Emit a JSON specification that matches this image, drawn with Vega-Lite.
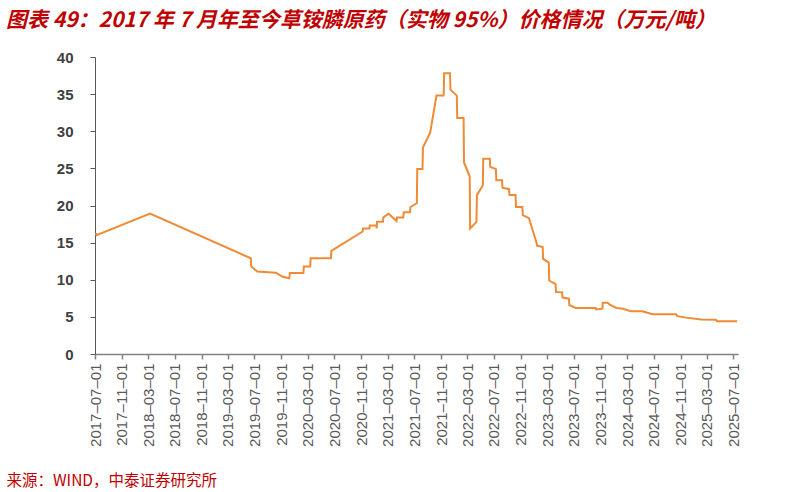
{
  "$schema": "https://vega.github.io/schema/vega-lite/v6.json",
  "autosize": "none",
  "padding": {"left": 95, "top": 57, "right": 65, "bottom": 138},
  "width": 643,
  "height": 297,
  "background": "white",
  "title": {
    "text": "图表 49：2017 年 7 月年至今草铵膦原药（实物 95%）价格情况（万元/吨）",
    "anchor": "start",
    "frame": "group",
    "dx": -89,
    "offset": 19,
    "font": "Noto Sans CJK SC",
    "fontSize": 21,
    "fontWeight": "bold",
    "fontStyle": "italic",
    "color": "#C00000"
  },
  "config": {
    "view": {"stroke": null},
    "axis": {"grid": false}
  },
  "data": {
    "values": [
      {"date": "2017-07-05", "price": 16.3},
      {"date": "2017-07-08", "price": 16.0},
      {"date": "2018-03-10", "price": 18.9},
      {"date": "2019-06-14", "price": 12.9},
      {"date": "2019-06-16", "price": 11.8},
      {"date": "2019-07-14", "price": 11.1},
      {"date": "2019-10-07", "price": 10.95},
      {"date": "2019-11-07", "price": 10.4},
      {"date": "2019-12-07", "price": 10.2},
      {"date": "2019-12-10", "price": 10.9},
      {"date": "2020-02-10", "price": 10.9},
      {"date": "2020-02-12", "price": 11.8},
      {"date": "2020-03-12", "price": 11.8},
      {"date": "2020-03-14", "price": 12.9},
      {"date": "2020-06-15", "price": 12.9},
      {"date": "2020-06-17", "price": 13.9},
      {"date": "2020-11-07", "price": 16.5},
      {"date": "2020-11-09", "price": 16.9},
      {"date": "2020-12-08", "price": 16.9},
      {"date": "2020-12-10", "price": 17.3},
      {"date": "2021-01-09", "price": 17.3},
      {"date": "2021-01-10", "price": 16.9},
      {"date": "2021-01-12", "price": 17.8},
      {"date": "2021-02-08", "price": 17.8},
      {"date": "2021-02-10", "price": 18.4},
      {"date": "2021-03-05", "price": 18.9},
      {"date": "2021-03-10", "price": 18.8},
      {"date": "2021-04-11", "price": 17.9},
      {"date": "2021-04-13", "price": 18.4},
      {"date": "2021-05-12", "price": 18.4},
      {"date": "2021-05-14", "price": 19.1},
      {"date": "2021-06-12", "price": 19.1},
      {"date": "2021-06-14", "price": 19.8},
      {"date": "2021-07-13", "price": 20.3},
      {"date": "2021-07-15", "price": 24.9},
      {"date": "2021-08-08", "price": 24.9},
      {"date": "2021-08-10", "price": 27.8},
      {"date": "2021-09-12", "price": 29.8},
      {"date": "2021-10-11", "price": 34.8},
      {"date": "2021-11-13", "price": 34.8},
      {"date": "2021-11-15", "price": 37.8},
      {"date": "2021-12-12", "price": 37.8},
      {"date": "2021-12-14", "price": 35.6},
      {"date": "2022-01-12", "price": 34.8},
      {"date": "2022-01-14", "price": 31.8},
      {"date": "2022-02-12", "price": 31.8},
      {"date": "2022-02-14", "price": 25.8},
      {"date": "2022-03-12", "price": 23.9},
      {"date": "2022-03-14", "price": 16.9},
      {"date": "2022-04-12", "price": 17.8},
      {"date": "2022-04-14", "price": 21.4},
      {"date": "2022-05-11", "price": 22.7},
      {"date": "2022-05-13", "price": 26.3},
      {"date": "2022-06-12", "price": 26.3},
      {"date": "2022-06-14", "price": 25.2},
      {"date": "2022-07-10", "price": 24.9},
      {"date": "2022-07-12", "price": 23.4},
      {"date": "2022-08-07", "price": 23.4},
      {"date": "2022-08-09", "price": 22.4},
      {"date": "2022-09-08", "price": 22.2},
      {"date": "2022-09-10", "price": 21.4},
      {"date": "2022-10-08", "price": 21.4},
      {"date": "2022-10-10", "price": 19.8},
      {"date": "2022-11-08", "price": 19.8},
      {"date": "2022-11-10", "price": 18.7},
      {"date": "2022-12-08", "price": 18.3},
      {"date": "2023-01-12", "price": 15.0},
      {"date": "2023-01-14", "price": 14.6},
      {"date": "2023-02-09", "price": 14.4},
      {"date": "2023-02-11", "price": 12.8},
      {"date": "2023-03-09", "price": 12.3},
      {"date": "2023-03-11", "price": 9.9},
      {"date": "2023-04-09", "price": 9.4},
      {"date": "2023-04-11", "price": 8.35},
      {"date": "2023-05-09", "price": 8.3},
      {"date": "2023-05-11", "price": 7.6},
      {"date": "2023-06-09", "price": 7.45},
      {"date": "2023-06-11", "price": 6.6},
      {"date": "2023-07-10", "price": 6.2},
      {"date": "2023-10-10", "price": 6.2},
      {"date": "2023-10-12", "price": 6.0},
      {"date": "2023-11-09", "price": 6.1},
      {"date": "2023-11-11", "price": 6.9},
      {"date": "2023-12-03", "price": 6.9},
      {"date": "2023-12-13", "price": 6.65},
      {"date": "2024-01-13", "price": 6.2},
      {"date": "2024-02-12", "price": 6.1},
      {"date": "2024-03-18", "price": 5.75},
      {"date": "2024-05-10", "price": 5.75},
      {"date": "2024-06-26", "price": 5.35},
      {"date": "2024-10-12", "price": 5.35},
      {"date": "2024-10-17", "price": 5.1},
      {"date": "2024-11-27", "price": 4.9},
      {"date": "2025-02-04", "price": 4.65},
      {"date": "2025-04-12", "price": 4.6},
      {"date": "2025-04-17", "price": 4.4},
      {"date": "2025-07-18", "price": 4.4}
    ]
  },
  "mark": {"type": "line", "color": "#EF8A35", "strokeWidth": 2},
  "encoding": {
    "x": {
      "field": "date",
      "type": "temporal",
      "scale": {"type": "utc", "domain": ["2017-07-01", "2025-07-22"]},
      "axis": {
        "values": [
          {"year": 2017, "month": 7, "date": 1, "utc": true},
          {"year": 2017, "month": 11, "date": 1, "utc": true},
          {"year": 2018, "month": 3, "date": 1, "utc": true},
          {"year": 2018, "month": 7, "date": 1, "utc": true},
          {"year": 2018, "month": 11, "date": 1, "utc": true},
          {"year": 2019, "month": 3, "date": 1, "utc": true},
          {"year": 2019, "month": 7, "date": 1, "utc": true},
          {"year": 2019, "month": 11, "date": 1, "utc": true},
          {"year": 2020, "month": 3, "date": 1, "utc": true},
          {"year": 2020, "month": 7, "date": 1, "utc": true},
          {"year": 2020, "month": 11, "date": 1, "utc": true},
          {"year": 2021, "month": 3, "date": 1, "utc": true},
          {"year": 2021, "month": 7, "date": 1, "utc": true},
          {"year": 2021, "month": 11, "date": 1, "utc": true},
          {"year": 2022, "month": 3, "date": 1, "utc": true},
          {"year": 2022, "month": 7, "date": 1, "utc": true},
          {"year": 2022, "month": 11, "date": 1, "utc": true},
          {"year": 2023, "month": 3, "date": 1, "utc": true},
          {"year": 2023, "month": 7, "date": 1, "utc": true},
          {"year": 2023, "month": 11, "date": 1, "utc": true},
          {"year": 2024, "month": 3, "date": 1, "utc": true},
          {"year": 2024, "month": 7, "date": 1, "utc": true},
          {"year": 2024, "month": 11, "date": 1, "utc": true},
          {"year": 2025, "month": 3, "date": 1, "utc": true},
          {"year": 2025, "month": 7, "date": 1, "utc": true}
        ],
        "labelExpr": "utcFormat(datum.value, '%Y–%m–%d')",
        "labelAngle": -90,
        "labelFont": "Liberation Sans",
        "labelFontSize": 15,
        "labelColor": "#595959",
        "labelPadding": 4,
        "labelOverlap": false,
        "labelFlush": false,
        "domainColor": "#808080",
        "domainWidth": 1.5,
        "tickColor": "#808080",
        "tickWidth": 1.5,
        "tickSize": 5,
        "title": "来源：WIND，中泰证券研究所",
        "titleFont": "Noto Sans CJK SC",
        "titleFontSize": 15.5,
        "titleFontWeight": "normal",
        "titleColor": "#C00000",
        "titleAlign": "left",
        "titleBaseline": "middle",
        "titleAnchor": "start",
        "titleX": -89,
        "titleY": 126
      }
    },
    "y": {
      "field": "price",
      "type": "quantitative",
      "scale": {"domain": [0, 40]},
      "axis": {
        "values": [0, 5, 10, 15, 20, 25, 30, 35, 40],
        "title": null,
        "labelFont": "Liberation Sans",
        "labelFontSize": 15,
        "labelFontWeight": "bold",
        "labelColor": "#404040",
        "labelPadding": 17,
        "domainColor": "#595959",
        "tickColor": "#595959",
        "tickSize": 5
      }
    }
  }
}
